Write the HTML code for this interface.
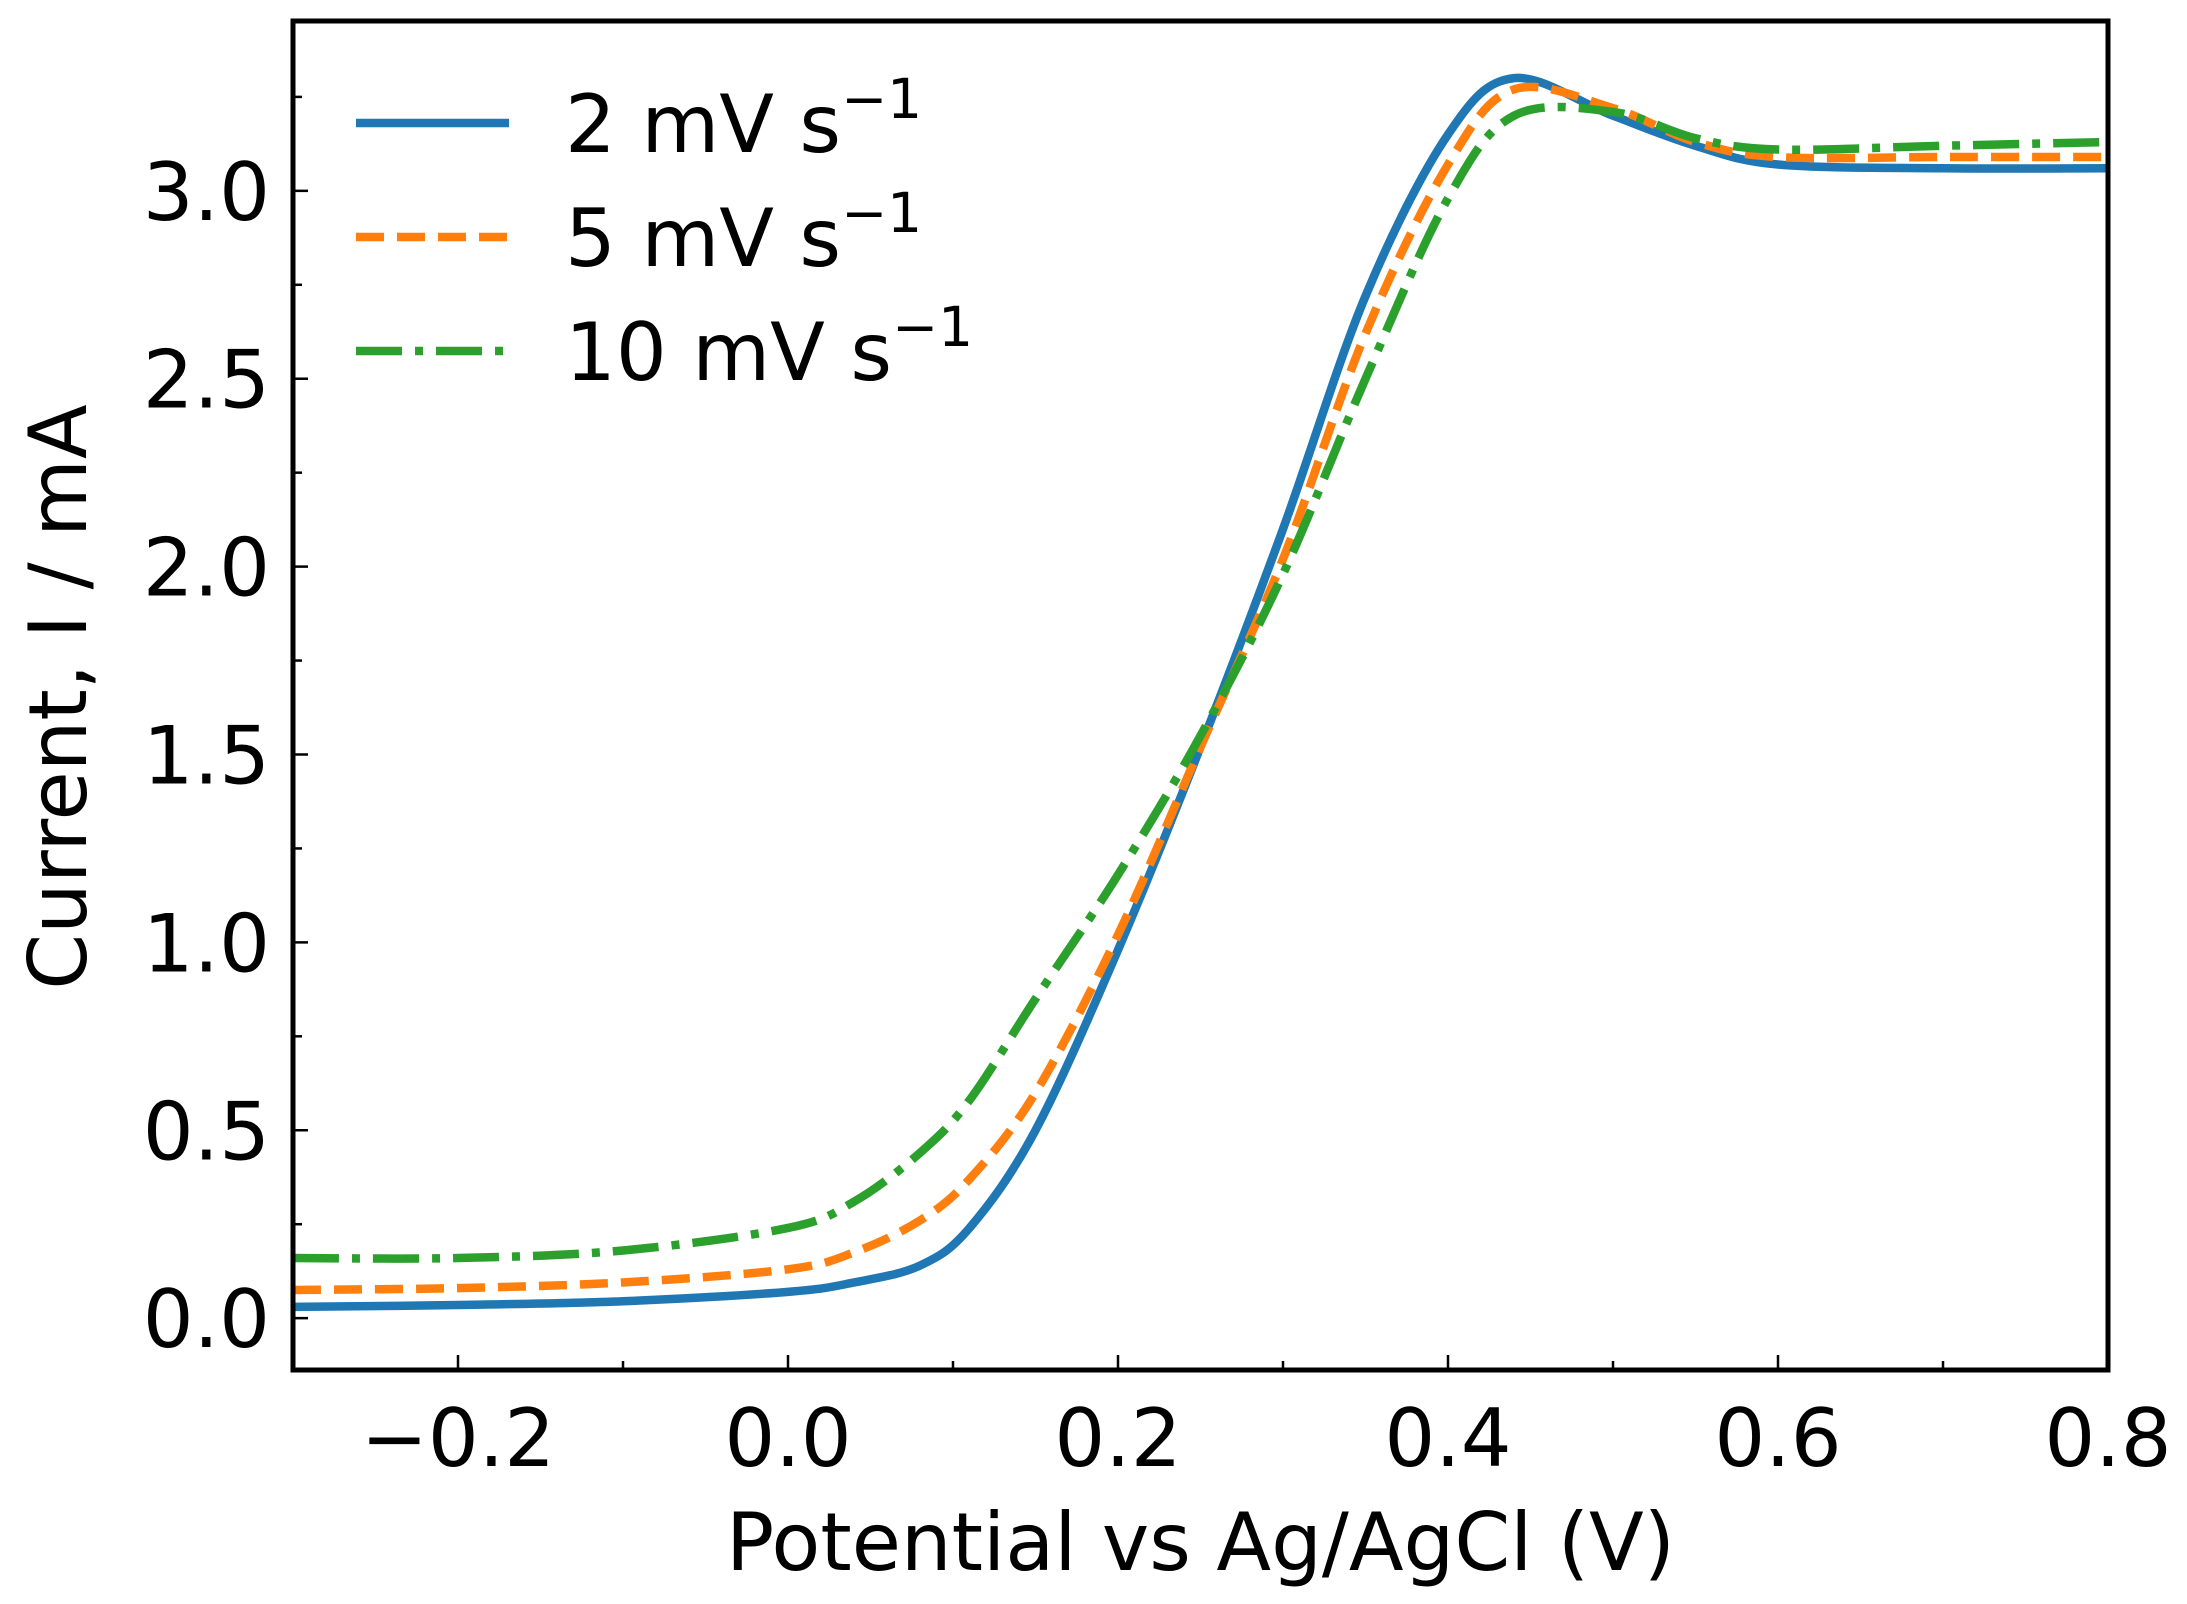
<!DOCTYPE html>
<html><head><meta charset="utf-8"><style>
html,body{margin:0;padding:0;background:#fff}
svg{display:block;font-family:"DejaVu Sans","Liberation Sans",sans-serif}
</style></head><body>
<svg id="chart" width="2187" height="1604" viewBox="0 0 2187 1604">
<g id="plot"></g>
</svg>
<script>
const potential = [-0.3,-0.2,-0.1,0.0,0.04,0.08,0.11,0.15,0.2,0.25,0.3,0.35,0.4,0.44,0.5,0.55,0.6,0.7,0.8];
const current2 = [0.03,0.035,0.045,0.07,0.095,0.14,0.24,0.5,0.98,1.52,2.1,2.72,3.15,3.30,3.2,3.12,3.07,3.06,3.06];
const current5 = [0.075,0.08,0.095,0.13,0.175,0.26,0.37,0.6,1.02,1.52,2.02,2.62,3.07,3.27,3.22,3.13,3.09,3.09,3.09];
const current10 = [0.16,0.16,0.18,0.24,0.31,0.44,0.58,0.85,1.18,1.55,1.98,2.5,2.98,3.20,3.21,3.14,3.11,3.12,3.13];
const xTicks = [-0.2,0.0,0.2,0.4,0.6,0.8];
const xTickLabels = ["\u22120.2","0.0","0.2","0.4","0.6","0.8"];
const yTicks = [0,0.5,1,1.5,2,2.5,3];
const yTickLabels = ["0.0","0.5","1.0","1.5","2.0","2.5","3.0"];
const legendLabels = ["2 mV s","5 mV s","10 mV s"];

const L=293,R=2108,T=21,B=1370, X0=-0.3,X1=0.8,Y0=-0.138,Y1=3.452;
const sx=v=>L+(v-X0)/(X1-X0)*(R-L);
const sy=v=>B-(v-Y0)/(Y1-Y0)*(B-T);
const NS="http://www.w3.org/2000/svg";
const g=document.getElementById('plot');
function mk(t,a,p){const e=document.createElementNS(NS,t);for(const k in a)e.setAttribute(k,a[k]);(p||g).appendChild(e);return e;}
function pathFor(xs,ys){
  const P=xs.map((x,i)=>[sx(x),sy(ys[i])]);
  let d=`M${P[0][0]},${P[0][1]}`;
  for(let i=0;i<P.length-1;i++){
    const p0=P[Math.max(0,i-1)],p1=P[i],p2=P[i+1],p3=P[Math.min(P.length-1,i+2)];
    const c1=[p1[0]+(p2[0]-p0[0])/6,p1[1]+(p2[1]-p0[1])/6];
    const c2=[p2[0]-(p3[0]-p1[0])/6,p2[1]-(p3[1]-p1[1])/6];
    d+=` C${c1[0]},${c1[1]} ${c2[0]},${c2[1]} ${p2[0]},${p2[1]}`;
  }
  return d;
}
const defs=mk('defs',{});
const cp=mk('clipPath',{id:'clip'},defs);mk('rect',{x:L,y:T,width:R-L,height:B-T},cp);
const series=[
 {ys:current2,color:'#1f77b4',dash:'',name:'series-2mv'},
 {ys:current5,color:'#ff7f0e',dash:'28,13',name:'series-5mv'},
 {ys:current10,color:'#2ca02c',dash:'46,13,8,13',name:'series-10mv'}];
series.forEach(s=>{
  const p=mk('path',{d:pathFor(potential,s.ys),fill:'none',stroke:s.color,'stroke-width':8.5,'stroke-dasharray':s.dash,'clip-path':'url(#clip)'});
  
  
});
for(let v=-0.3;v<=0.8001;v+=0.1){const x=sx(v);const major=Math.abs(Math.round(v*10)%2)===0;
  const t=mk('line',{x1:x,x2:x,y1:B,y2:B-(major?15:9),stroke:'#000','stroke-width':2.5});
  
  }
for(let v=0;v<=3.4;v+=0.25){const y=sy(v);const major=Math.abs(v*2-Math.round(v*2))<1e-6;
  const t=mk('line',{x1:L,x2:L+(major?15:9),y1:y,y2:y,stroke:'#000','stroke-width':2.5});
  
  }
xTicks.forEach((v,i)=>{const t=mk('text',{x:sx(v),y:1466,'text-anchor':'middle','font-size':80});t.textContent=xTickLabels[i];
  
  });
yTicks.forEach((v,i)=>{const t=mk('text',{x:270,y:sy(v)+29,'text-anchor':'end','font-size':80});t.textContent=yTickLabels[i];
  
  });
const fr=mk('rect',{x:L,y:T,width:R-L,height:B-T,fill:'none',stroke:'#000','stroke-width':5});


const xl=mk('text',{x:(L+R)/2,y:1570,'text-anchor':'middle','font-size':80});xl.textContent='Potential vs Ag/AgCl (V)';


const yl=mk('text',{x:0,y:0,'text-anchor':'middle','font-size':80,transform:'translate(86,697) rotate(-90)'});yl.textContent='Current, I / mA';


series.forEach((s,i)=>{const y=123+i*114;
  const ln=mk('line',{x1:356,x2:509,y1:y,y2:y,stroke:s.color,'stroke-width':8.5,'stroke-dasharray':s.dash});
  
  
  const t=mk('text',{x:565,y:y+29,'font-size':80});t.textContent=legendLabels[i];
  const sup=mk('tspan',{dy:-34,'font-size':55},t);sup.textContent='\u22121';
  
  });
</script>
</body></html>
